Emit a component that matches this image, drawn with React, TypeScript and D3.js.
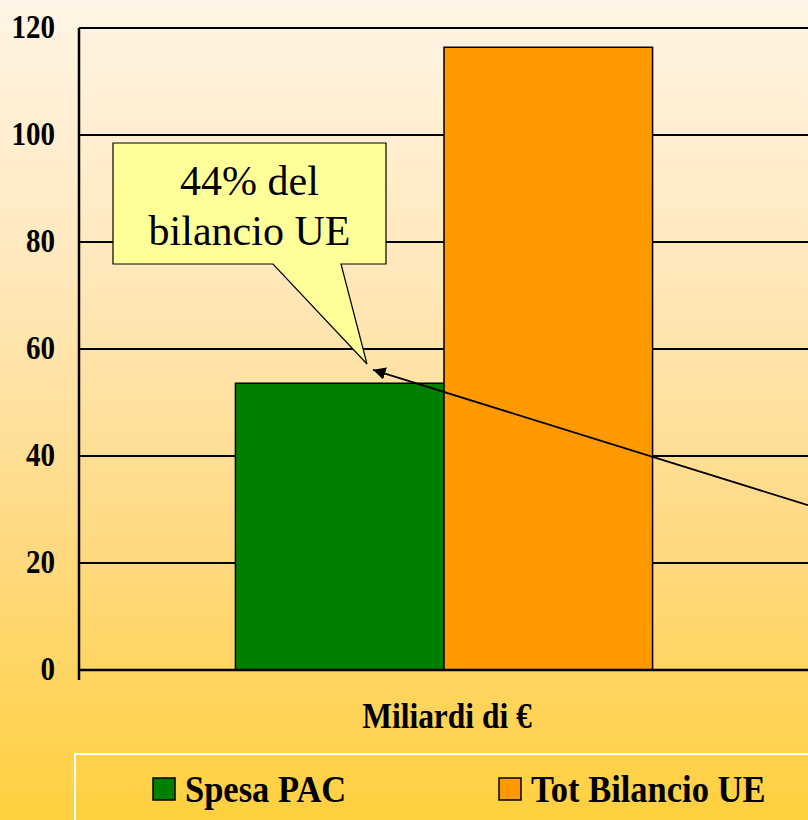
import React, { useEffect, useRef } from "react";
import * as d3 from "d3";

// data
const categories = ["Miliardi di €"];
const seriesNames = ["Spesa PAC", "Tot Bilancio UE"];
const seriesValues = [53.6, 116.4];
const seriesColors = ["#008000", "#FF9900"];
const yTicks = [0, 20, 40, 60, 80, 100, 120];
const calloutLines = ["44% del", "bilancio UE"];

const W = 808;
const H = 820;
const plot = { left: 79, right: 809, top: 28, bottom: 670 };
const FONT = "'Liberation Serif', 'Times New Roman', 'DejaVu Serif', serif";

function drawChart(svgEl: SVGSVGElement) {
  const svg = d3.select(svgEl);
  svg.selectAll("*").remove();

  // background gradient
  const defs = svg.append("defs");
  const grad = defs.append("linearGradient")
    .attr("id", "bg").attr("x1", 0).attr("y1", 0).attr("x2", 0).attr("y2", 1);
  grad.append("stop").attr("offset", "0%").attr("stop-color", "#FFF5E6");
  grad.append("stop").attr("offset", "35%").attr("stop-color", "#FFE7B8");
  grad.append("stop").attr("offset", "65%").attr("stop-color", "#FFDA84");
  grad.append("stop").attr("offset", "100%").attr("stop-color", "#FFD03E");

  defs.append("marker")
    .attr("id", "arrow")
    .attr("viewBox", "0 0 10 10")
    .attr("refX", 10).attr("refY", 5)
    .attr("markerWidth", 7).attr("markerHeight", 7)
    .attr("orient", "auto")
    .append("path").attr("d", "M0,0 L10,5 L0,10 Z").attr("fill", "#000");

  svg.append("rect").attr("width", W).attr("height", H).attr("fill", "url(#bg)");

  const x0 = d3.scaleBand().domain(categories).range([plot.left, plot.right]).padding(0);
  const x1 = d3.scaleBand().domain(seriesNames).range([0, x0.bandwidth()])
    .paddingInner(0).paddingOuter(0.75);
  const y = d3.scaleLinear().domain([0, 120]).range([plot.bottom, plot.top]);

  // gridlines
  svg.append("g").selectAll("line")
    .data(yTicks.filter(d => d > 0))
    .join("line")
    .attr("x1", plot.left).attr("x2", W)
    .attr("y1", d => y(d)).attr("y2", d => y(d))
    .attr("stroke", "#000").attr("stroke-width", 2);

  // bars
  const cat = categories[0];
  svg.append("g").selectAll("rect")
    .data(seriesNames)
    .join("rect")
    .attr("x", d => x0(cat)! + x1(d)!)
    .attr("y", (d, i) => y(seriesValues[i]))
    .attr("width", x1.bandwidth())
    .attr("height", (d, i) => y(0) - y(seriesValues[i]))
    .attr("fill", (d, i) => seriesColors[i])
    .attr("stroke", "#000").attr("stroke-width", 1.5);

  // axes
  svg.append("line")
    .attr("x1", plot.left).attr("x2", plot.left)
    .attr("y1", plot.top).attr("y2", plot.bottom + 10)
    .attr("stroke", "#000").attr("stroke-width", 2.5);
  svg.append("line")
    .attr("x1", plot.left).attr("x2", W)
    .attr("y1", plot.bottom).attr("y2", plot.bottom)
    .attr("stroke", "#000").attr("stroke-width", 2.5);

  // y tick labels
  svg.append("g").selectAll("text")
    .data(yTicks)
    .join("text")
    .attr("transform", d => `translate(55, ${y(d) + 10}) scale(1, 1.13)`)
    .attr("text-anchor", "end")
    .style("font-family", FONT)
    .style("font-weight", "bold")
    .style("font-size", "29px")
    .text(d => d);

  // category label
  svg.append("text")
    .attr("transform", `translate(${x0(cat)! + x0.bandwidth() / 2 + 3}, 728) scale(1, 1.13)`)
    .attr("text-anchor", "middle")
    .style("font-family", FONT)
    .style("font-weight", "bold")
    .style("font-size", "31.5px")
    .text(cat);

  // legend
  svg.append("rect")
    .attr("x", 75).attr("y", 754).attr("width", 760).attr("height", 100)
    .attr("fill", "none").attr("stroke", "#fff").attr("stroke-width", 2);
  const legendX = [153, 499];
  const lg = svg.append("g").selectAll("g")
    .data(seriesNames)
    .join("g")
    .attr("transform", (d, i) => `translate(${legendX[i]}, 778)`);
  lg.append("rect")
    .attr("width", 22).attr("height", 22)
    .attr("fill", (d, i) => seriesColors[i])
    .attr("stroke", "#000").attr("stroke-width", 1.5);
  lg.append("text")
    .attr("transform", "translate(32, 24) scale(1, 1.13)")
    .style("font-family", FONT)
    .style("font-weight", "bold")
    .style("font-size", "34.5px")
    .text(d => d);

  // arrow line pointing at the green bar
  svg.append("line")
    .attr("x1", W).attr("y1", y(30.8))
    .attr("x2", 373).attr("y2", y(56.1))
    .attr("stroke", "#000").attr("stroke-width", 1.8)
    .attr("marker-end", "url(#arrow)");

  // callout
  const bx0 = 113, bx1 = 386, by0 = 143, by1 = 264;
  const tipX = 367, tipY = y(57.2);
  svg.append("path")
    .attr("d", `M${bx0},${by0} H${bx1} V${by1} H341 L${tipX},${tipY} L273,${by1} H${bx0} Z`)
    .attr("fill", "#FFFF99")
    .attr("stroke", "#000").attr("stroke-width", 1.2);
  svg.append("g").selectAll("text")
    .data(calloutLines)
    .join("text")
    .attr("x", (bx0 + bx1) / 2)
    .attr("y", (d, i) => 195 + i * 50)
    .attr("text-anchor", "middle")
    .style("font-family", FONT)
    .style("font-weight", "normal")
    .style("font-size", "42px")
    .text(d => d);
}

export default function App() {
  const svgRef = useRef<SVGSVGElement>(null);

  useEffect(() => {
    if (svgRef.current) drawChart(svgRef.current);
  }, []);

  return (
    <svg
      ref={svgRef}
      width={W}
      height={H}
      style={{ position: "absolute", left: 0, top: 0, display: "block" }}
    />
  );
}
